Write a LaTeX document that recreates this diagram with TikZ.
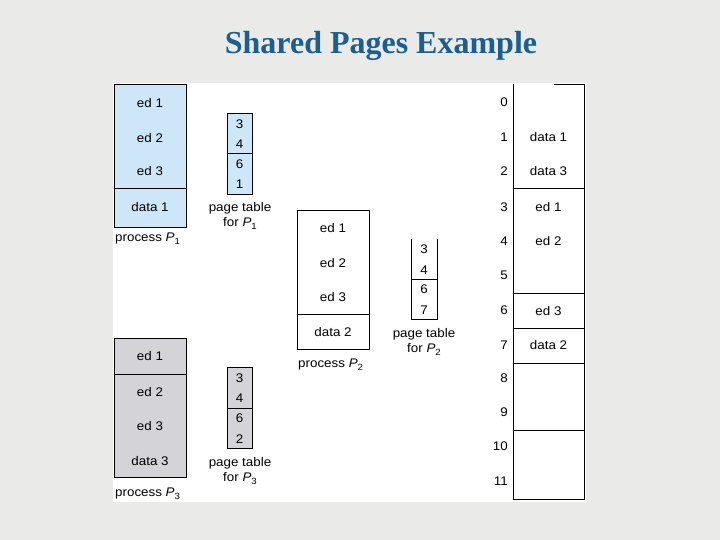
\documentclass[tikz,border=0pt]{standalone}
\usepackage{fontspec}
\setmainfont{Liberation Sans}[FakeStretch=1.07]
\newfontfamily\titlefont{Liberation Serif}
\definecolor{bgcol}{RGB}{234,234,232}
\definecolor{blueproc}{RGB}{205,231,248}
\definecolor{grayproc}{RGB}{211,211,216}
\definecolor{titleblue}{RGB}{26,95,142}
\newcommand{\Psub}[1]{\textit{P}\raisebox{-0.5ex}{\fontsize{9}{9}\selectfont #1}}
\tikzset{
  lbl/.style={font=\fontsize{12.5}{13}\selectfont, inner sep=0pt},
  num/.style={font=\fontsize{12.5}{13}\selectfont, inner sep=0pt, anchor=east},
  captxt/.style={font=\fontsize{12.5}{15}\selectfont, inner sep=0pt, align=center},
  boxline/.style={draw=black, line width=0.8pt},
}
\begin{document}
\begin{tikzpicture}[x=1pt,y=-1pt]
\useasboundingbox (0,0) rectangle (720,540);
\fill[bgcol] (0,0) rectangle (720,540);
\fill[white] (113,83) rectangle (586,502);
\node[font=\titlefont\bfseries\fontsize{32}{34}\selectfont, text=titleblue, inner sep=0pt] (title) at (381,46) {Shared Pages Example};

% process P1
\filldraw[boxline, fill=blueproc] (114,84) rectangle (186,227);
\draw[boxline] (114,188) -- (186,188);
\node[lbl] (p1a) at (150,103) {ed 1};
\node[lbl] (p1b) at (150,138) {ed 2};
\node[lbl] (p1c) at (150,171) {ed 3};
\node[lbl] (p1d) at (150,207) {data 1};
\node[lbl, anchor=west] (p1cap) at (115,239) {process \Psub{1}};

% page table P1
\filldraw[boxline, fill=blueproc] (227,113) rectangle (252,194);
\draw[boxline] (227,153) -- (252,153);
\node[lbl] (t1a) at (239.5,124) {3};
\node[lbl] (t1b) at (239.5,144) {4};
\node[lbl] (t1c) at (239.5,164) {6};
\node[lbl] (t1d) at (239.5,184) {1};
\node[captxt] (t1cap) at (240,216) {page table\\for \Psub{1}};

% process P2
\draw[boxline] (297,210) rectangle (369,349);
\draw[boxline] (297,314) -- (369,314);
\node[lbl] (p2a) at (333,228) {ed 1};
\node[lbl] (p2b) at (333,263) {ed 2};
\node[lbl] (p2c) at (333,297) {ed 3};
\node[lbl] (p2d) at (333,332) {data 2};
\node[lbl, anchor=west] (p2cap) at (298,365) {process \Psub{2}};

% page table P2
\draw[boxline] (411,239) -- (411,319) -- (437,319) -- (437,239);
\draw[boxline] (411,279) -- (437,279);
\node[lbl] (t2a) at (424,249) {3};
\node[lbl] (t2b) at (424,270) {4};
\node[lbl] (t2c) at (424,289) {6};
\node[lbl] (t2d) at (424,310) {7};
\node[captxt] (t2cap) at (424,342) {page table\\for \Psub{2}};

% process P3
\filldraw[boxline, fill=grayproc] (114,338) rectangle (186,477);
\draw[boxline] (114,374) -- (186,374);
\node[lbl] (p3a) at (150,356) {ed 1};
\node[lbl] (p3b) at (150,392) {ed 2};
\node[lbl] (p3c) at (150,426) {ed 3};
\node[lbl] (p3d) at (150,461) {data 3};
\node[lbl, anchor=west] (p3cap) at (115,494) {process \Psub{3}};

% page table P3
\filldraw[boxline, fill=grayproc] (227,367) rectangle (252,448);
\draw[boxline] (227,408) -- (252,408);
\node[lbl] (t3a) at (239.5,378) {3};
\node[lbl] (t3b) at (239.5,398) {4};
\node[lbl] (t3c) at (239.5,418) {6};
\node[lbl] (t3d) at (239.5,439) {2};
\node[captxt] (t3cap) at (240,471) {page table\\for \Psub{3}};

% physical memory
\draw[boxline] (554,84) -- (584,84) -- (584,499) -- (513,499) -- (513,84);
\foreach \yy in {188,293,328,363,430} { \draw[boxline] (513,\yy) -- (584,\yy); }
\node[lbl] (m1) at (548.5,137) {data 1};
\node[lbl] (m2) at (548.5,171) {data 3};
\node[lbl] (m3) at (548.5,207) {ed 1};
\node[lbl] (m4) at (548.5,241) {ed 2};
\node[lbl] (m6) at (548.5,311) {ed 3};
\node[lbl] (m7) at (548.5,345) {data 2};
\node[num] (f0) at (508,102) {0};
\node[num] (f1) at (508,137) {1};
\node[num] (f2) at (508,171) {2};
\node[num] (f3) at (508,207) {3};
\node[num] (f4) at (508,241) {4};
\node[num] (f5) at (508,275) {5};
\node[num] (f6) at (508,310) {6};
\node[num] (f7) at (508,345) {7};
\node[num] (f8) at (508,378) {8};
\node[num] (f9) at (508,412) {9};
\node[num] (f10) at (508,446) {10};
\node[num] (f11) at (508,481) {11};
\end{tikzpicture}
\end{document}
